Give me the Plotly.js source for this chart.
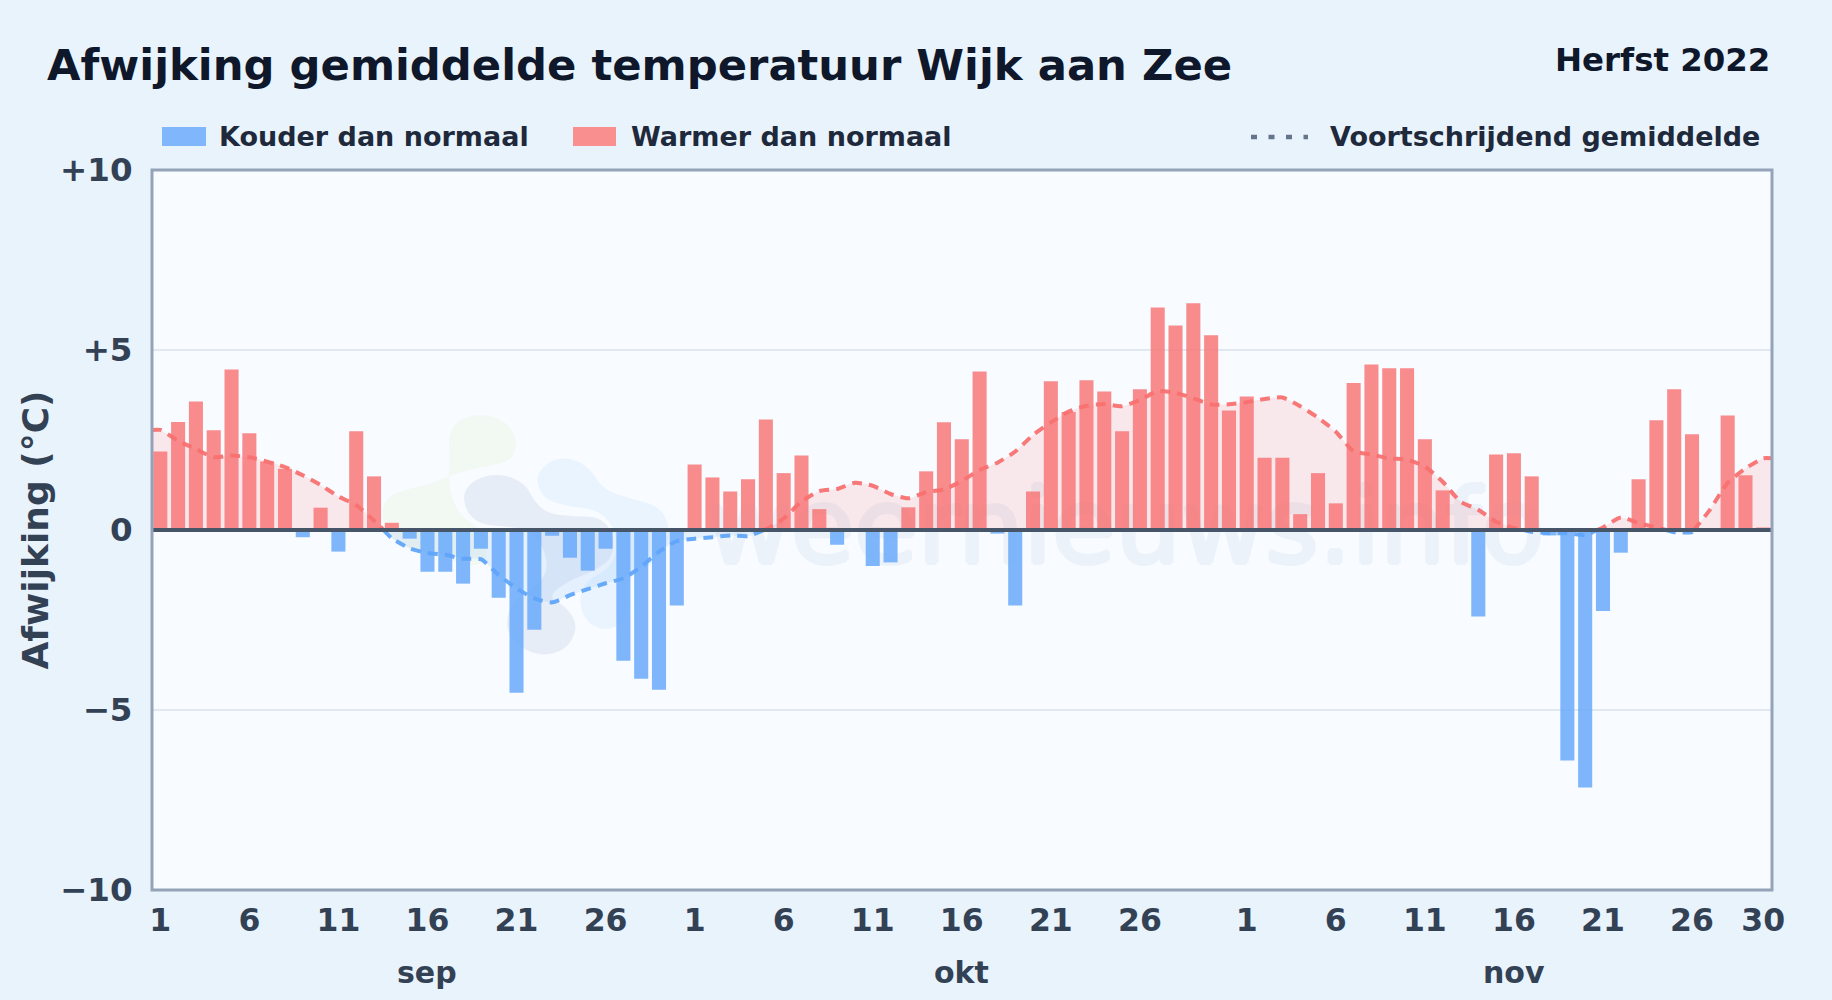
<!DOCTYPE html>
<html>
<head>
<meta charset="utf-8">
<script src="https://cdn.plot.ly/plotly-3.0.1.min.js"></script>
<style>html,body{margin:0;padding:0;background:#e9f3fc;overflow:hidden}#chart{width:1832px;height:1000px}</style>
</head>
<body>
<div id="chart"></div>
<script>
var septemberValues = [2.18,3.0,3.57,2.77,4.46,2.69,1.9,1.7,-0.2,0.62,-0.6,2.74,1.49,0.2,-0.24,-1.16,-1.16,-1.49,-0.52,-1.88,-4.52,-2.77,-0.16,-0.77,-1.13,-0.52,-3.63,-4.13,-4.44,-2.1];
var octoberValues = [1.82,1.46,1.07,1.41,3.07,1.58,2.07,0.58,-0.41,0,-1.0,-0.9,0.63,1.63,2.99,2.52,4.4,-0.1,-2.1,1.07,4.13,3.28,4.16,3.85,2.74,3.91,6.18,5.68,6.3,5.41,3.32];
var novemberValues = [3.71,2.01,2.01,0.44,1.58,0.74,4.08,4.6,4.49,4.49,2.52,1.1,-0.04,-2.4,2.1,2.13,1.49,-0.15,-6.4,-7.15,-2.25,-0.63,1.41,3.05,3.91,2.66,-0.05,3.18,1.52,0.07];
var movingAverage = [2.78,2.48,2.25,2.02,2.07,2.02,1.9,1.75,1.52,1.25,0.93,0.69,0.26,-0.23,-0.51,-0.64,-0.69,-0.8,-0.81,-1.25,-1.62,-1.9,-2.01,-1.81,-1.64,-1.48,-1.34,-1.02,-0.6,-0.31,-0.24,-0.2,-0.15,-0.17,0.02,0.32,0.79,1.08,1.14,1.31,1.23,1.0,0.88,1.05,1.13,1.36,1.67,1.87,2.18,2.64,2.99,3.29,3.45,3.5,3.44,3.61,3.86,3.81,3.66,3.49,3.49,3.55,3.64,3.68,3.44,3.12,2.73,2.19,2.1,1.99,1.96,1.76,1.34,0.79,0.56,0.23,0.06,-0.05,-0.09,-0.09,-0.14,0.07,0.35,0.19,0.07,-0.06,-0.06,0.56,1.31,1.71,1.99];
var tickPositions = [0,5,10,15,20,25,30,35,40,45,50,55,61,66,71,76,81,86,90];
var tickLabels = ['1','6','11','16','21','26','1','6','11','16','21','26','1','6','11','16','21','26','30'];
var monthPositions = [15,45,76];
var monthLabels = ['sep','okt','nov'];
var yTicks = [-10,-5,0,5,10];
var yTickLabels = ['\u221210','\u22125','0','+5','+10'];
var legendLabels = ['Kouder dan normaal','Warmer dan normaal','Voortschrijdend gemiddelde'];
var titleText = 'Afwijking gemiddelde temperatuur Wijk aan Zee';
var seasonText = 'Herfst 2022';
var yTitleText = 'Afwijking (\u00b0C)';
var watermarkText = 'weernieuws.info';

var values = septemberValues.concat(octoberValues, novemberValues);
var days = values.map(function(_, i){ return i; });
var W = 1832, H = 1000, L = 152, R = 1772, T = 170, B = 890;
var xMin = -0.466, xMax = 90.49;
function px(x){ return (x - L) / (R - L); }
function py(y){ return (B - y) / (B - T); }

// Split the moving average at zero crossings into a warm and a cold run
var lineX = [xMin].concat(days, [xMax]);
var lineY = [movingAverage[0]].concat(movingAverage, [movingAverage[90]]);
function runs(sign){
  var xs = [], ys = [];
  for (var i = 0; i < lineX.length; i++){
    var y = lineY[i];
    if (i > 0 && lineY[i-1] * y < 0){
      var t = lineY[i-1] / (lineY[i-1] - y);
      var cx = lineX[i-1] + t * (lineX[i] - lineX[i-1]);
      xs.push(cx); ys.push(0);
      xs.push(null); ys.push(null);
      if (y * sign > 0){ xs.push(cx); ys.push(0); }
    }
    if (y * sign >= 0){ xs.push(lineX[i]); ys.push(y); }
  }
  return {x: xs, y: ys};
}
var warm = runs(1), cold = runs(-1);

function blob(points, fill){
  var n = points.length, mids = [], d;
  for (var i = 0; i < n; i++){
    var a = points[i], b = points[(i+1)%n];
    mids.push([(a[0]+b[0])/2, (a[1]+b[1])/2]);
  }
  function c(p){ return px(370+p[0]/3).toFixed(5) + ',' + py(400+p[1]/3).toFixed(5); }
  d = 'M' + c(mids[n-1]);
  for (var j = 0; j < n; j++){ d += ' Q' + c(points[j]) + ' ' + c(mids[j]); }
  return {type:'path', xref:'paper', yref:'paper', path:d+' Z', fillcolor:fill, line:{width:0}, layer:'below'};
}
var greenBlob = [[235,100],[270,55],[345,40],[415,70],[445,130],[420,185],[340,200],[270,215],[190,250],[100,270],[45,295],[35,360],[70,430],[200,470],[350,510],[350,400],[260,340],[235,250],[240,170]];
var greyBlob = [[280,270],[330,230],[400,222],[465,250],[490,300],[530,340],[610,350],[690,350],[730,400],[730,470],[680,510],[600,540],[530,590],[590,620],[625,680],[590,750],[510,770],[430,730],[405,670],[430,600],[500,560],[540,500],[500,400],[430,380],[330,375],[285,330]];
var blueBlob = [[500,225],[540,180],[600,172],[660,205],[700,270],[790,298],[870,320],[900,380],[890,450],[840,500],[760,540],[790,640],[720,695],[650,670],[625,600],[650,540],[730,500],[745,400],[690,330],[600,320],[530,300],[505,265]];

var font = 'DejaVu Sans, sans-serif';
var wmColor = '#ebf2fa';
var traces = [
  {x:[54.2], y:[-0.2], mode:'text', text:[watermarkText], textposition:'middle center',
   textfont:{family:font, size:103, color:wmColor, weight:400,
     shadow:'2px 0 0 '+wmColor+', -2px 0 0 '+wmColor+', 0 2px 0 '+wmColor+', 0 -2px 0 '+wmColor}, hoverinfo:'skip', showlegend:false},
  {x:warm.x, y:warm.y, mode:'lines', fill:'tozeroy', fillcolor:'rgba(248,113,113,0.14)',
   line:{color:'rgba(248,113,113,0.95)', width:4, dash:'10px,7px', shape:'spline', smoothing:0.6},
   connectgaps:false, hoverinfo:'skip', showlegend:false},
  {x:cold.x, y:cold.y, mode:'lines', fill:'tozeroy', fillcolor:'rgba(96,165,250,0.12)',
   line:{color:'rgba(96,165,250,0.95)', width:4, dash:'10px,7px', shape:'spline', smoothing:0.6},
   connectgaps:false, hoverinfo:'skip', showlegend:false},
  {type:'bar', x:days, y:values, xaxis:'x2', yaxis:'y2', width:0.79,
   marker:{color:values.map(function(v){ return v < 0 ? '#60a5fa' : '#f87171'; }), opacity:0.8, line:{width:0}},
   hoverinfo:'x+y', showlegend:false}
];

var annotations = [
  {xref:'paper', yref:'paper', x:px(44.5), y:py(65), xanchor:'left', yanchor:'middle', showarrow:false,
   text:titleText, font:{family:font, size:43.3, color:'#0f172a', weight:700}},
  {xref:'paper', yref:'paper', x:px(1772), y:py(60), xanchor:'right', yanchor:'middle', showarrow:false,
   text:seasonText, font:{family:font, size:32.4, color:'#0f172a', weight:700}},
  {xref:'paper', yref:'paper', x:px(217), y:py(137), xanchor:'left', yanchor:'middle', showarrow:false,
   text:legendLabels[0], font:{family:font, size:27, color:'#1e293b', weight:700}},
  {xref:'paper', yref:'paper', x:px(628.5), y:py(137), xanchor:'left', yanchor:'middle', showarrow:false,
   text:legendLabels[1], font:{family:font, size:27, color:'#1e293b', weight:700}},
  {xref:'paper', yref:'paper', x:px(1762), y:py(137), xanchor:'right', yanchor:'middle', showarrow:false,
   text:legendLabels[2], font:{family:font, size:27, color:'#1e293b', weight:700}}
].concat(monthLabels.map(function(m, i){
  return {xref:'x', yref:'paper', x:monthPositions[i], y:py(972), xanchor:'center', yanchor:'middle', showarrow:false,
          text:m, font:{family:font, size:30, color:'#334155', weight:700}};
}));

var shapes = [
  blob(greenBlob,'rgba(232,245,222,0.38)'),
  blob(greyBlob,'rgba(211,224,240,0.5)'),
  blob(blueBlob,'rgba(214,236,252,0.45)'),
  {type:'rect', xref:'paper', yref:'paper', x0:px(162), x1:px(206), y0:py(127), y1:py(146), fillcolor:'#80b7fc', line:{width:0}},
  {type:'rect', xref:'paper', yref:'paper', x0:px(573), x1:px(616), y0:py(127), y1:py(146), fillcolor:'#f98f8f', line:{width:0}},
  {type:'line', xref:'paper', yref:'paper', x0:px(1251), x1:px(1308), y0:py(137), y1:py(137), line:{color:'#64748b', width:4.5, dash:'6px,11.5px'}},
  {type:'line', xref:'paper', yref:'y', x0:0, x1:1, y0:0, y1:0, layer:'above', line:{color:'#475569', width:4}},
  {type:'rect', xref:'paper', yref:'paper', x0:0, x1:1, y0:0, y1:1, layer:'above', line:{color:'#94a3b8', width:3}}
];

var axisBase = {showgrid:false, zeroline:false, fixedrange:true};
var layout = {
  width:W, height:H, autosize:false, showlegend:false, hovermode:'closest',
  paper_bgcolor:'#e9f3fc', plot_bgcolor:'#f8fbff',
  margin:{l:L, r:W-R, t:T, b:H-B, pad:0},
  xaxis:{type:'linear', range:[xMin,xMax], tickmode:'array', tickvals:tickPositions, ticktext:tickLabels,
    showgrid:false, zeroline:false, showline:false,
    ticks:'outside', ticklen:2, tickwidth:0, tickcolor:'rgba(0,0,0,0)', tickangle:0,
    tickfont:{family:font, size:31.5, color:'#334155', weight:700}, fixedrange:true},
  yaxis:{range:[-10,10], tickmode:'array', tickvals:yTicks, ticktext:yTickLabels,
    showgrid:true, gridcolor:'#e2e8f0', gridwidth:2, zeroline:false, showline:false,
    ticks:'outside', ticklen:12, tickwidth:0, tickcolor:'rgba(0,0,0,0)',
    tickfont:{family:font, size:32.5, color:'#334155', weight:700}, fixedrange:true,
    title:{text:yTitleText, standoff:0, font:{family:font, size:36, color:'#334155', weight:700}}},
  xaxis2:Object.assign({overlaying:'x', range:[xMin,xMax], visible:false}, axisBase),
  yaxis2:Object.assign({overlaying:'y', range:[-10,10], visible:false}, axisBase),
  annotations:annotations, shapes:shapes
};
Plotly.newPlot('chart', traces, layout, {displayModeBar:false, responsive:false});
</script>
</body>
</html>
